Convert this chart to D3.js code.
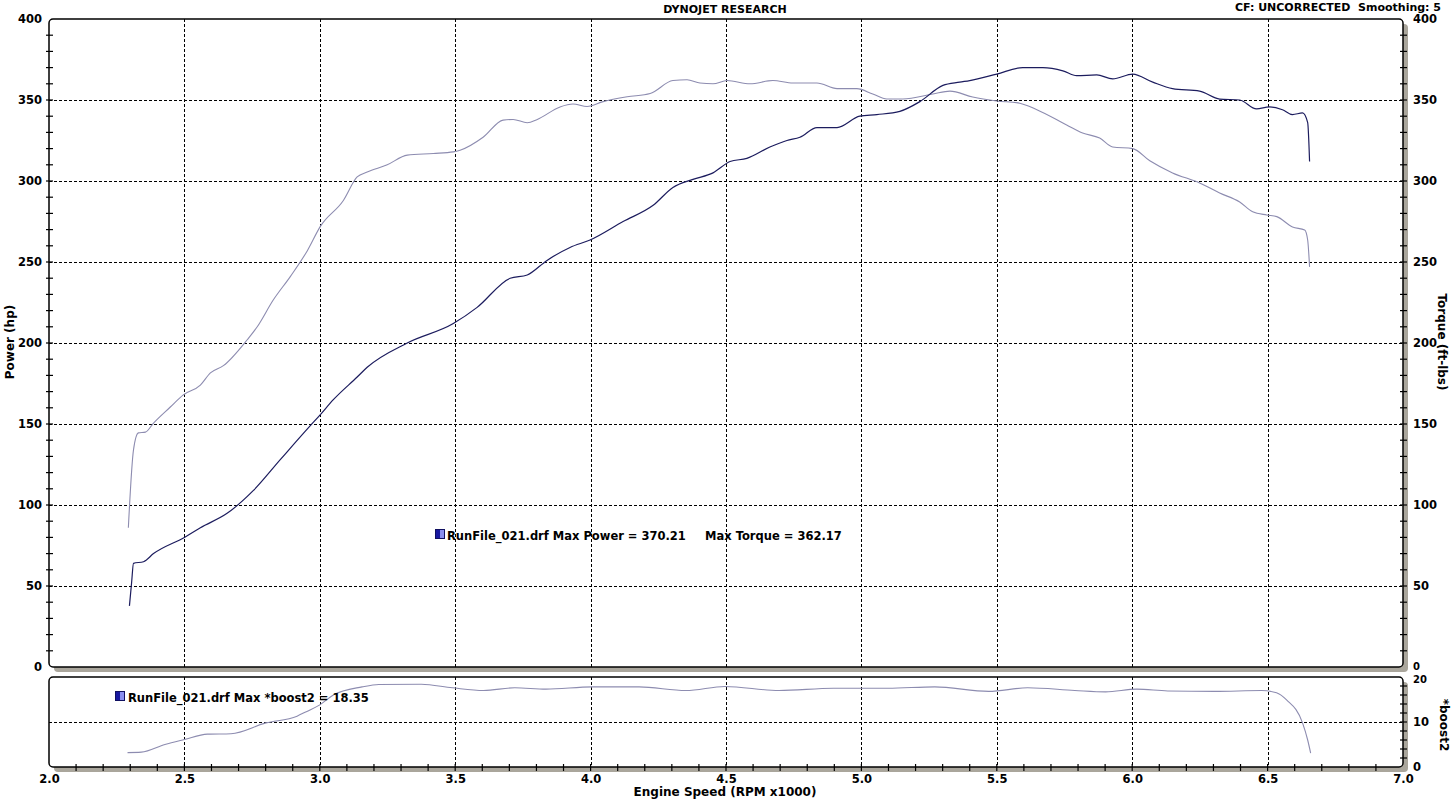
<!DOCTYPE html>
<html><head><meta charset="utf-8">
<script src="https://cdn.jsdelivr.net/npm/d3@7"></script>
<style>
html,body{margin:0;padding:0;background:#fff;}
svg{display:block;}
text{font-family:"DejaVu Sans",Verdana,sans-serif;font-weight:bold;fill:#000;white-space:pre;}
</style></head>
<body>
<svg id="chart" width="1451" height="799"></svg>
<script>
// ---- data (rpm x1000, value) ----
const powerRpm = [2.297,2.305,2.312,2.349,2.386,2.5,2.559,2.659,2.755,2.854,2.965,2.998,3.05,3.138,3.175,3.323,3.493,3.581,3.703,3.766,3.839,3.924,3.998,4.12,4.231,4.304,4.378,4.452,4.515,4.577,4.662,4.725,4.773,4.836,4.91,4.994,5.057,5.142,5.216,5.301,5.363,5.4,5.5,5.596,5.67,5.744,5.795,5.869,5.928,6.002,6.076,6.149,6.249,6.323,6.397,6.459,6.507,6.555,6.592,6.629,6.648,6.655];
const powerHp  = [37.7,52,64,65,70,80,86,95,109,128,149,155,165,179,185,200,212,222,240,242,251,259,263.6,275,285,296,301,305,312,314,321,325,327,333,333,340,341,343,349,359,361,362,366,370,370,368,365,365.5,363,366,361,357,355.5,350.6,350,344.5,345.7,344,341,342,336,312];

const torqueRpm = [2.293,2.312,2.33,2.356,2.386,2.448,2.496,2.559,2.596,2.644,2.732,2.769,2.828,2.891,2.954,3.002,3.087,3.138,3.175,3.249,3.323,3.419,3.493,3.518,3.603,3.677,3.714,3.766,3.803,3.887,3.935,3.987,4.046,4.135,4.22,4.304,4.356,4.404,4.452,4.504,4.589,4.673,4.747,4.836,4.91,4.983,5.042,5.094,5.153,5.264,5.327,5.411,5.5,5.585,5.648,5.758,5.817,5.88,5.928,6.002,6.065,6.149,6.249,6.323,6.397,6.445,6.497,6.534,6.592,6.637,6.648,6.655];
const torqueFtLb = [86,134,144.5,145,150.6,160.5,168,174,181.5,186,202,210,226.5,241,257,272,288,302.5,305.5,310,316,317,318,319,327,337.6,338,336,338,345.7,347.5,346,349,352,354,362,362.5,360.5,360,362,360,362,360.5,360.5,357,357,353.7,350.6,350.6,353.7,355.5,351.8,349.4,348,344,334.6,329.6,326.5,321,320,312.5,305,298.8,292.6,287,281,279,278,271.6,269.8,263.6,247];

const boostRpm = [2.29,2.341,2.428,2.5,2.585,2.672,2.801,2.916,2.95,3.0,3.05,3.156,3.218,3.375,3.489,3.605,3.72,3.835,4.007,4.179,4.352,4.496,4.696,4.897,5.098,5.271,5.47,5.614,5.788,5.902,6.017,6.131,6.304,6.478,6.533,6.57,6.629,6.648,6.659];
const boostVal = [3.2,3.3,5.0,6.1,7.3,7.4,9.8,11.3,12.3,13.8,16.0,17.8,18.35,18.4,17.6,17.0,17.6,17.3,17.8,17.8,17.0,17.9,17.0,17.5,17.5,17.8,16.8,17.6,17.0,16.7,17.3,16.9,16.8,17.0,16.5,14.9,9.8,6.0,3.1];

const xTicks = [2.0,2.5,3.0,3.5,4.0,4.5,5.0,5.5,6.0,6.5,7.0];
const mainTicks = [0,50,100,150,200,250,300,350,400];
const boostTicks = [0,10,20];

const titleTop = "DYNOJET RESEARCH";
const infoTop = "CF: UNCORRECTED  Smoothing: 5";
const legendMain1 = "RunFile_021.drf Max Power = 370.21";
const legendMain2 = "Max Torque = 362.17";
const legendBoost = "RunFile_021.drf Max *boost2 = 18.35";

// ---- layout ----
const svg = d3.select("#chart");
const L = 49, R = 1403;
const mTop = 19, mBot = 667;
const bTop = 677, bBot = 767;
const shadow = "#aaa69c";

const x = d3.scaleLinear().domain([2,7]).range([L,R]);
const yM = d3.scaleLinear().domain([0,400]).range([mBot,mTop]);
const yB = d3.scaleLinear().domain([0,20]).range([bBot,bTop]);

function panel(t,b){
  svg.append("rect").attr("x",L+5).attr("y",t+5).attr("width",R-L).attr("height",b-t)
    .attr("rx",4).attr("fill",shadow);
  svg.append("rect").attr("x",L).attr("y",t).attr("width",R-L).attr("height",b-t)
    .attr("rx",4).attr("fill","#fff");
}
panel(mTop,mBot);
panel(bTop,bBot);

const grid = svg.append("g").attr("stroke","#000").attr("stroke-width",1).attr("stroke-dasharray","3,2").attr("shape-rendering","crispEdges");
xTicks.filter(d=>d>2 && d<7).forEach(d=>{
  grid.append("line").attr("x1",Math.round(x(d))+0.5).attr("x2",Math.round(x(d))+0.5).attr("y1",mTop).attr("y2",mBot);
  grid.append("line").attr("x1",Math.round(x(d))+0.5).attr("x2",Math.round(x(d))+0.5).attr("y1",bTop).attr("y2",bBot);
});
mainTicks.filter(d=>d>0 && d<400).forEach(d=>{
  grid.append("line").attr("x1",L).attr("x2",R).attr("y1",Math.round(yM(d))+0.5).attr("y2",Math.round(yM(d))+0.5);
});
grid.append("line").attr("x1",L).attr("x2",R).attr("y1",Math.round(yB(10))+0.5).attr("y2",Math.round(yB(10))+0.5);

// frames
svg.append("rect").attr("x",L).attr("y",mTop).attr("width",R-L).attr("height",mBot-mTop)
  .attr("rx",4).attr("fill","none").attr("stroke","#000").attr("stroke-width",1.5);
svg.append("rect").attr("x",L).attr("y",bTop).attr("width",R-L).attr("height",bBot-bTop)
  .attr("rx",4).attr("fill","none").attr("stroke","#000").attr("stroke-width",1.5);

// ticks
const tk = svg.append("g").attr("stroke","#000").attr("stroke-width",1.2);
d3.range(0,401,10).forEach(v=>{
  const yy = yM(v);
  if (v>0 && v<400) {
    tk.append("line").attr("x1",L-3).attr("x2",L+4).attr("y1",yy).attr("y2",yy);
    tk.append("line").attr("x1",R-3).attr("x2",R+4).attr("y1",yy).attr("y2",yy);
  }
});
d3.range(2,20,2).forEach(v=>{
  tk.append("line").attr("x1",R-3).attr("x2",R+4).attr("y1",yB(v)).attr("y2",yB(v));
});
d3.range(21,70,1).map(d=>d/10).forEach(v=>{
  tk.append("line").attr("x1",x(v)).attr("x2",x(v)).attr("y1",bBot-3).attr("y2",bBot+4);
});

// axis labels (via d3 axes, styled)
function styleTicks(g, fs){
  g.select(".domain").remove();
  g.selectAll("text").style("font-family","DejaVu Sans").style("font-weight","bold").attr("font-size",fs).attr("fill","#000");
}
const axL = d3.axisLeft(yM).tickValues(mainTicks).tickSize(0).tickPadding(7).tickFormat(d3.format("d"));
svg.append("g").attr("transform",`translate(${L},0)`).call(axL).call(g=>styleTicks(g,11.5));
const axR = d3.axisRight(yM).tickValues(mainTicks).tickSize(0).tickPadding(10).tickFormat(d3.format("d"));
const gR = svg.append("g").attr("transform",`translate(${R},0)`).call(axR).call(g=>styleTicks(g,11.5));
gR.selectAll(".tick").filter(d=>d===0).select("text").attr("font-size",10).attr("dy","0.2em");
const axRB = d3.axisRight(yB).tickValues(boostTicks).tickSize(0).tickPadding(10).tickFormat(d3.format("d"));
const gRB = svg.append("g").attr("transform",`translate(${R},0)`).call(axRB).call(g=>styleTicks(g,11.5));
gRB.selectAll(".tick").filter(d=>d===20).select("text").attr("font-size",10).attr("dy","0.5em");
const axB = d3.axisBottom(x).tickValues(xTicks).tickSize(0).tickPadding(6).tickFormat(d3.format(".1f"));
svg.append("g").attr("transform",`translate(0,${bBot+2})`).call(axB).call(g=>styleTicks(g,11.5));

// lines
const mk = (xs,ys,yS)=> d3.line().curve(d3.curveMonotoneX).x((d,i)=>x(xs[i])).y((d,i)=>yS(ys[i]))(xs);
svg.append("path").attr("d",mk(torqueRpm,torqueFtLb,yM)).attr("fill","none").attr("stroke","#8d8cb0").attr("stroke-width",1.1);
svg.append("path").attr("d",mk(powerRpm,powerHp,yM)).attr("fill","none").attr("stroke","#1c1c5e").attr("stroke-width",1.2);
svg.append("path").attr("d",mk(boostRpm,boostVal,yB)).attr("fill","none").attr("stroke","#8d8cb0").attr("stroke-width",1.1);

// legends
function swatch(x0,y0){
  svg.append("rect").attr("x",x0).attr("y",y0).attr("width",5).attr("height",10).attr("fill","#1818a0");
  svg.append("rect").attr("x",x0+5).attr("y",y0).attr("width",5).attr("height",10).attr("fill","#8a8ef0");
  svg.append("rect").attr("x",x0+0.5).attr("y",y0+0.5).attr("width",9).attr("height",9).attr("fill","none").attr("stroke","#101060").attr("stroke-width",1);
}
swatch(435,529);
svg.append("text").attr("x",447).attr("y",540).attr("font-size",11.5).text(legendMain1);
svg.append("text").attr("x",705).attr("y",540).attr("font-size",11.5).text(legendMain2);
swatch(115,691);
svg.append("text").attr("x",128).attr("y",702).attr("font-size",11.5).text(legendBoost);

// titles
svg.append("text").attr("x",725).attr("y",13).attr("text-anchor","middle").attr("font-size",11).text(titleTop);
svg.append("text").attr("x",1441).attr("y",11).attr("text-anchor","end").attr("font-size",11).attr("xml:space","preserve").text(infoTop);
svg.append("text").attr("x",725).attr("y",796).attr("text-anchor","middle").attr("font-size",12).text("Engine Speed (RPM x1000)");
svg.append("text").attr("transform","translate(14,342) rotate(-90)").attr("text-anchor","middle").attr("font-size",12).text("Power (hp)");
svg.append("text").attr("transform","translate(1438,342) rotate(90)").attr("text-anchor","middle").attr("font-size",12).text("Torque (ft-lbs)");
svg.append("text").attr("transform","translate(1440,725) rotate(90)").attr("text-anchor","middle").attr("font-size",12).text("*boost2");
</script>
</body></html>
